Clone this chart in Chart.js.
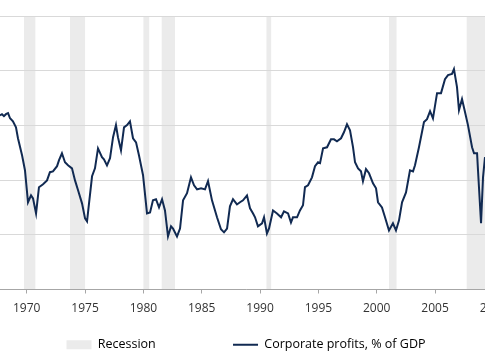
<!DOCTYPE html>
<html>
<head>
<meta charset="utf-8">
<script src="https://cdn.jsdelivr.net/npm/chart.js@4"></script>
<style>
  html, body { margin: 0; padding: 0; background: #fff; overflow: hidden; }
  #frame { position: relative; width: 485px; height: 360px; overflow: hidden; }
  #chart { position: absolute; left: -24px; top: 0; }
</style>
</head>
<body>
<div id="frame"><canvas id="chart" width="540" height="360"></canvas></div>
<script>
// Corporate profits as % of GDP, quarterly
const years = [
  1967.71, 1967.88,
  1968.05, 1968.22, 1968.40, 1968.57, 1968.82,
  1969.08, 1969.25, 1969.60, 1969.85,
  1970.11, 1970.37, 1970.54, 1970.80,
  1971.05, 1971.40, 1971.74, 1971.99,
  1972.25, 1972.60, 1972.77,
  1973.02, 1973.28, 1973.54, 1973.88,
  1974.14, 1974.40, 1974.74,
  1975.00, 1975.17, 1975.34, 1975.60, 1975.85,
  1976.11, 1976.45, 1976.62, 1976.88,
  1977.14, 1977.40, 1977.65, 1977.82,
  1978.08, 1978.34, 1978.60, 1978.85,
  1979.11, 1979.37, 1979.62, 1979.97,
  1980.31, 1980.57, 1980.82,
  1981.08, 1981.34, 1981.60, 1981.85,
  1982.11, 1982.37, 1982.54, 1982.88,
  1983.14, 1983.40, 1983.74,
  1984.08, 1984.34, 1984.60, 1984.94,
  1985.28, 1985.54, 1985.88,
  1986.31, 1986.65, 1986.91,
  1987.17, 1987.42, 1987.68,
  1988.02, 1988.28, 1988.54, 1988.88,
  1989.14, 1989.40, 1989.57, 1989.82,
  1990.17, 1990.34, 1990.59, 1990.77,
  1991.11, 1991.45, 1991.80,
  1992.05, 1992.40, 1992.65, 1992.82,
  1993.17, 1993.42, 1993.68, 1993.85,
  1994.11, 1994.45, 1994.71, 1994.97,
  1995.14, 1995.40, 1995.74,
  1996.08, 1996.34, 1996.59, 1996.94,
  1997.19, 1997.45, 1997.71, 1997.97,
  1998.14, 1998.40, 1998.65, 1998.82,
  1999.08, 1999.34, 1999.68, 1999.94,
  2000.11, 2000.45, 2000.71,
  2001.05, 2001.39, 2001.65, 2001.91,
  2002.17, 2002.51, 2002.85,
  2003.11, 2003.28, 2003.62,
  2004.05, 2004.31, 2004.57, 2004.82,
  2005.17, 2005.51, 2005.85,
  2006.11, 2006.45, 2006.62, 2006.88,
  2007.05, 2007.31, 2007.57, 2007.82,
  2008.17, 2008.34, 2008.60, 2008.68, 2008.94,
  2009.11, 2009.28
];
const profits = [
  8.37, 8.41,
  8.34, 8.41, 8.45, 8.26, 8.15,
  7.93, 7.53, 6.91, 6.36,
  5.19, 5.44, 5.33, 4.78,
  5.74, 5.85, 5.99, 6.29,
  6.32, 6.51, 6.73,
  6.98, 6.65, 6.54, 6.43,
  5.99, 5.63, 5.15,
  4.60, 4.49, 5.15, 6.14, 6.43,
  7.16, 6.84, 6.76, 6.54,
  6.80, 7.57, 8.01, 7.57,
  7.09, 7.93, 8.01, 8.15,
  7.53, 7.38, 6.91, 6.18,
  4.78, 4.82, 5.26,
  5.30, 5.00, 5.30, 4.89,
  3.94, 4.31, 4.23, 3.94,
  4.23, 5.26, 5.52,
  6.10, 5.81, 5.66, 5.70,
  5.66, 5.96, 5.26,
  4.64, 4.20, 4.09,
  4.23, 5.04, 5.30,
  5.11, 5.19, 5.26, 5.44,
  4.97, 4.78, 4.64, 4.31,
  4.42, 4.64, 4.05, 4.23,
  4.89, 4.78, 4.64,
  4.86, 4.78, 4.45, 4.64,
  4.64, 4.89, 5.08, 5.74,
  5.81, 6.10, 6.51, 6.65,
  6.62, 7.16, 7.20,
  7.49, 7.49, 7.42, 7.53,
  7.75, 8.04, 7.82, 7.20,
  6.65, 6.43, 6.32, 5.96,
  6.40, 6.25, 5.88, 5.70,
  5.19, 5.00, 4.64,
  4.16, 4.42, 4.16, 4.53,
  5.19, 5.55, 6.36,
  6.32, 6.54, 7.20,
  8.12, 8.23, 8.52, 8.26,
  9.18, 9.18, 9.69,
  9.84, 9.88, 10.06, 9.40,
  8.56, 8.96, 8.48, 8.01,
  7.20, 6.98, 6.98, 6.36, 4.42,
  6.10, 6.84
];

// recession periods (start, end) in decimal years
const recessionStart = [1969.77, 1973.71, 1980.00, 1981.57, 1990.55, 2001.05, 2007.71];
const recessionEnd   = [1970.74, 1975.00, 1980.50, 1982.71, 1990.95, 2001.70, 2009.50];

const lineColor = '#112a52';
const bandColor = '#ebebeb';
const seriesLabel = 'Corporate profits, % of GDP';
const bandLabel = 'Recession';

Chart.defaults.font.family = "'Open Sans', sans-serif";
Chart.defaults.font.size = 12;
Chart.defaults.color = '#333';

// shaded recession periods, drawn under the grid
const recessionBands = {
  id: 'recessionBands',
  beforeDraw(chart) {
    const {ctx, chartArea, scales: {x}} = chart;
    ctx.save();
    ctx.beginPath();
    ctx.rect(chartArea.left, chartArea.top, chartArea.width, chartArea.height);
    ctx.clip();
    ctx.fillStyle = bandColor;
    recessionStart.forEach((s, i) => {
      const x0 = x.getPixelForValue(s);
      const x1 = x.getPixelForValue(recessionEnd[i]);
      ctx.fillRect(x0, chartArea.top, x1 - x0, chartArea.height);
    });
    ctx.restore();
  }
};

new Chart(document.getElementById('chart'), {
  type: 'line',
  data: {
    datasets: [{
      label: seriesLabel,
      data: years.map((yr, i) => ({x: yr, y: profits[i]})),
      borderColor: lineColor,
      backgroundColor: lineColor,
      borderWidth: 2,
      pointRadius: 0,
      tension: 0
    }]
  },
  options: {
    responsive: false,
    animation: false,
    layout: { padding: { top: 16, left: 0, right: 0, bottom: -1 } },
    scales: {
      x: {
        type: 'linear',
        min: 1965.653,
        max: 2011.937,
        border: { color: '#a6a6a6' },
        grid: { drawOnChartArea: false, drawTicks: true, tickLength: 4, color: '#a6a6a6' },
        ticks: { stepSize: 5, includeBounds: false, padding: 8, color: '#333', callback: v => String(v) },
        afterFit: scale => { scale.height = 26; }
      },
      y: {
        min: 2,
        max: 12,
        border: { display: false },
        grid: { color: '#d9d9d9', drawTicks: false },
        ticks: { display: false, stepSize: 2 }
      }
    },
    plugins: {
      tooltip: { enabled: false },
      legend: {
        position: 'bottom',
        onClick: null,
        labels: {
          usePointStyle: true,
          pointStyleWidth: 25,
          boxHeight: 9,
          padding: 23,
          color: '#333',
          font: { size: 12.5 },
          generateLabels: () => [
            { text: bandLabel, fillStyle: bandColor, strokeStyle: bandColor, lineWidth: 0, pointStyle: 'rect', hidden: false },
            { text: '', fillStyle: 'rgba(0,0,0,0)', strokeStyle: 'rgba(0,0,0,0)', lineWidth: 0, pointStyle: 'rect', hidden: false },
            { text: seriesLabel, fillStyle: lineColor, strokeStyle: lineColor, lineWidth: 2, pointStyle: 'line', hidden: false, datasetIndex: 0 }
          ]
        }
      }
    }
  },
  plugins: [recessionBands]
});
</script>
</body>
</html>
